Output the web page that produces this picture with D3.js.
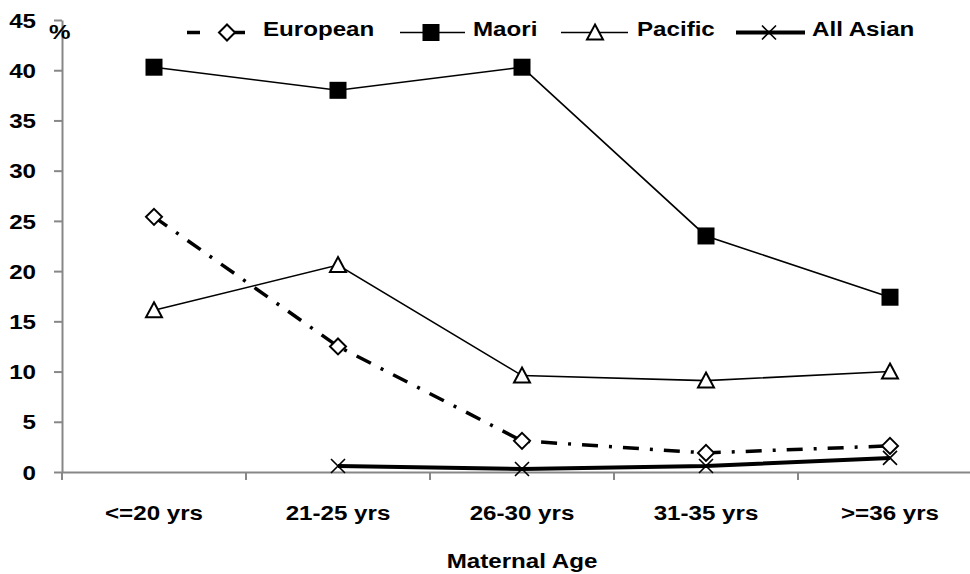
<!DOCTYPE html>
<html>
<head>
<meta charset="utf-8">
<script src="https://cdn.jsdelivr.net/npm/d3@7"></script>
<style>
  html, body { margin: 0; padding: 0; background: #fff; }
  svg { display: block; }
  text { font-family: "Liberation Sans", Arial, sans-serif; font-weight: bold; fill: #000; }
</style>
</head>
<body>
<svg id="chart" width="970" height="574"></svg>
<script>
// Maternal age groups and the rate (%) for each ethnic group
const categories = ["<=20 yrs", "21-25 yrs", "26-30 yrs", "31-35 yrs", ">=36 yrs"];
const european = [25.4, 12.5, 3.1, 1.9, 2.6];
const maori = [40.3, 38.0, 40.3, 23.5, 17.4];
const pacific = [16.1, 20.6, 9.6, 9.1, 10.0];
const allAsian = [null, 0.6, 0.3, 0.6, 1.4];
const yTicks = [0, 5, 10, 15, 20, 25, 30, 35, 40, 45];
const seriesNames = ["European", "Maori", "Pacific", "All Asian"];

const FONT = 21, SX = 1.15;
const svg = d3.select("#chart");

const x = d3.scaleBand().domain(categories).range([62, 982]).padding(0);
const y = d3.scaleLinear().domain([0, 45]).range([472, 20]);
const cx = d => x(d) + x.bandwidth() / 2;

const series = [
  { name: seriesNames[0], values: european, dash: "16,11,3,11", width: 3.5, marker: "diamond" },
  { name: seriesNames[1], values: maori, dash: null, width: 1.6, marker: "square" },
  { name: seriesNames[2], values: pacific, dash: null, width: 1.6, marker: "triangle" },
  { name: seriesNames[3], values: allAsian, dash: null, width: 4, marker: "cross" }
];

// Axes
const axisColor = "#878787";
const yAxis = svg.append("g")
  .attr("transform", "translate(62,0)")
  .call(d3.axisLeft(y).tickValues(yTicks).tickSize(8).tickSizeOuter(0));
yAxis.select(".domain").attr("stroke", axisColor).attr("stroke-width", 2);
yAxis.selectAll(".tick line").attr("stroke", axisColor).attr("stroke-width", 2);
yAxis.selectAll(".tick text")
  .attr("font-size", FONT)
  .attr("x", -26 / SX)
  .attr("dy", "0.34em")
  .attr("transform", `scale(${SX},1)`);

const xAxis = svg.append("g")
  .attr("transform", "translate(0,472)")
  .call(d3.axisBottom(x).tickSize(0).tickSizeOuter(0));
xAxis.select(".domain").attr("stroke", axisColor).attr("stroke-width", 2);
xAxis.selectAll(".tick text")
  .attr("font-size", FONT)
  .attr("y", 33)
  .attr("transform", `scale(${SX},1)`);

// Boundary ticks between the age groups
xAxis.selectAll(".btick")
  .data(categories)
  .join("line")
  .attr("class", "btick")
  .attr("x1", d => x(d)).attr("x2", d => x(d))
  .attr("y1", 0).attr("y2", 8)
  .attr("stroke", axisColor).attr("stroke-width", 2);

svg.selectAll(".domain").attr("fill", "none");

// Scaled text helper
function label(txt, px, py, anchor) {
  svg.append("g")
    .attr("transform", `translate(${px},${py}) scale(${SX},1)`)
    .append("text")
    .attr("font-size", FONT)
    .attr("text-anchor", anchor || "start")
    .text(txt);
}

label("%", 49, 39);
label("Maternal  Age", 522, 568, "middle");

// Marker drawing
function drawMarker(g, type, px, py) {
  if (type === "diamond") {
    g.append("path")
      .attr("d", `M${px},${py - 8}L${px + 8},${py}L${px},${py + 8}L${px - 8},${py}Z`)
      .attr("fill", "#fff").attr("stroke", "#000").attr("stroke-width", 2);
  } else if (type === "square") {
    g.append("rect")
      .attr("x", px - 8.5).attr("y", py - 8.5).attr("width", 17).attr("height", 17)
      .attr("fill", "#000");
  } else if (type === "triangle") {
    g.append("path")
      .attr("d", `M${px},${py - 8}L${px + 8},${py + 7}L${px - 8},${py + 7}Z`)
      .attr("fill", "#fff").attr("stroke", "#000").attr("stroke-width", 2);
  } else if (type === "cross") {
    g.append("path")
      .attr("d", `M${px - 7},${py - 7}L${px + 7},${py + 7}M${px + 7},${py - 7}L${px - 7},${py + 7}`)
      .attr("fill", "none").attr("stroke", "#000").attr("stroke-width", 1.6);
  }
}

// Series lines and markers
const line = d3.line()
  .defined(d => d.v !== null)
  .x(d => cx(d.c))
  .y(d => y(d.v));

series.forEach(s => {
  const pts = categories.map((c, i) => ({ c, v: s.values[i] }));
  const g = svg.append("g");
  g.append("path")
    .datum(pts)
    .attr("d", line)
    .attr("fill", "none")
    .attr("stroke", "#000")
    .attr("stroke-width", s.width)
    .attr("stroke-dasharray", s.dash);
  pts.filter(d => d.v !== null).forEach(d => drawMarker(g, s.marker, cx(d.c), y(d.v)));
});

// Legend
const legendItems = [
  { s: series[0], x1: 187, x2: 245, mx: 227, tx: 263 },
  { s: series[1], x1: 400, x2: 465, mx: 431, tx: 473 },
  { s: series[2], x1: 561, x2: 628, mx: 595, tx: 637 },
  { s: series[3], x1: 736, x2: 805, mx: 769, tx: 812 }
];
const ly = 32.5;
legendItems.forEach(it => {
  const g = svg.append("g");
  g.append("line")
    .attr("x1", it.x1).attr("x2", it.x2).attr("y1", ly).attr("y2", ly)
    .attr("stroke", "#000").attr("stroke-width", it.s.width)
    .attr("stroke-dasharray", it.s.dash ? "13,27,18" : null);
  drawMarker(g, it.s.marker, it.mx, ly);
  label(it.s.name, it.tx, 36);
});
</script>
</body>
</html>
